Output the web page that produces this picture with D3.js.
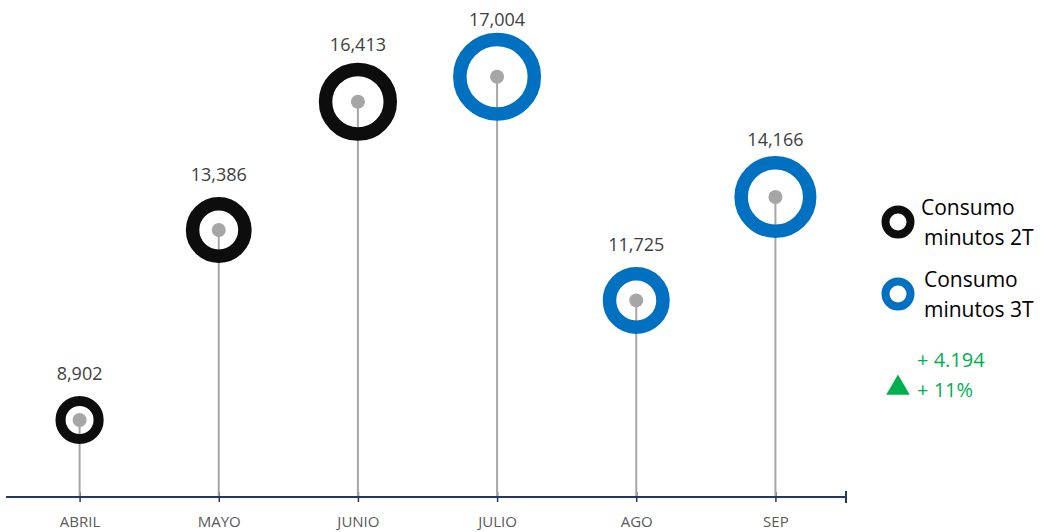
<!DOCTYPE html>
<html>
<head>
<meta charset="utf-8">
<script src="https://cdn.jsdelivr.net/npm/d3@7"></script>
<style>
  html, body { margin: 0; padding: 0; background: #fff; }
  svg { display: block; font-family: "Open Sans", Lato, "Liberation Sans", sans-serif; }
</style>
</head>
<body>
<div id="chart"></div>
<script>
// Monthly minute consumption, 2T (Apr-Jun) vs 3T (Jul-Sep)
const months = ['ABRIL', 'MAYO', 'JUNIO', 'JULIO', 'AGO', 'SEP'];
const minutes = [8902, 13386, 16413, 17004, 11725, 14166];
const quarter = ['2T', '2T', '2T', '3T', '3T', '3T'];
// relative bubble size as drawn in the original
const bubbleSize = [30, 56, 79, 100, 58, 87];

const seriesNames = ['Consumo minutos 2T', 'Consumo minutos 3T'];
const seriesKeys = ['2T', '3T'];
const deltaLines = ['+ 4.194', '+ 11%'];

const width = 1047, height = 532;
const colors = { '2T': '#0d0d0d', '3T': '#0070c0' };

const svg = d3.select('#chart').append('svg')
  .attr('width', width)
  .attr('height', height);

// Scales
const x = d3.scalePoint()
  .domain(months)
  .range([10, 845])
  .padding(0.5);

const y = d3.scaleLinear()
  .domain([7085, 18814])
  .range([497, 0]);

const r = d3.scaleSqrt()
  .domain([0, 100])
  .range([0, 44]);

const data = months.map((m, i) => ({
  month: m,
  value: minutes[i],
  q: quarter[i],
  size: bubbleSize[i]
}));

// Axis
const axis = svg.append('g')
  .attr('transform', 'translate(0,497)')
  .call(d3.axisBottom(x).tickSize(5).tickSizeOuter(0).tickPadding(14))
  .attr('font-family', null)
  .attr('font-size', null);

axis.select('.domain')
  .attr('d', 'M6,0H846')
  .attr('stroke', '#1f3864')
  .attr('stroke-width', 2);

axis.selectAll('.tick line')
  .attr('y1', -5)
  .attr('y2', 5)
  .attr('stroke', '#1f3864')
  .attr('stroke-width', 1.5);

axis.selectAll('.tick text')
  .attr('fill', '#595959')
  .style('font-size', '15px');

// end tick
axis.append('line')
  .attr('x1', 846).attr('x2', 846)
  .attr('y1', -6).attr('y2', 6)
  .attr('stroke', '#1f3864')
  .attr('stroke-width', 2);

// Stems
svg.append('g').selectAll('line')
  .data(data)
  .join('line')
  .attr('x1', d => x(d.month))
  .attr('x2', d => x(d.month))
  .attr('y1', d => y(d.value))
  .attr('y2', 496)
  .attr('stroke', '#a6a6a6')
  .attr('stroke-width', 2);

// Rings
svg.append('g').selectAll('circle')
  .data(data)
  .join('circle')
  .attr('cx', d => x(d.month))
  .attr('cy', d => y(d.value))
  .attr('r', d => {
    const R = r(d.size);
    const sw = Math.min(13.5, 0.42 * R);
    return R - sw / 2;
  })
  .attr('fill', 'none')
  .attr('stroke', d => colors[d.q])
  .attr('stroke-width', d => Math.min(13.5, 0.42 * r(d.size)));

// Center dots
svg.append('g').selectAll('circle')
  .data(data)
  .join('circle')
  .attr('cx', d => x(d.month))
  .attr('cy', d => y(d.value))
  .attr('r', 7)
  .attr('fill', '#a6a6a6');

// Value labels
svg.append('g').selectAll('text')
  .data(data)
  .join('text')
  .attr('x', d => x(d.month))
  .attr('y', d => y(d.value) - Math.min(51, r(d.size) + 16))
  .attr('text-anchor', 'middle')
  .attr('fill', '#404040')
  .style('font-size', '18px')
  .text(d => d3.format(',')(d.value));

// Legend
const legend = svg.append('g');
seriesKeys.forEach((k, i) => {
  const cy = 222 + i * 72;
  legend.append('circle')
    .attr('cx', 898)
    .attr('cy', cy)
    .attr('r', 12.5)
    .attr('fill', 'none')
    .attr('stroke', colors[k])
    .attr('stroke-width', 8);

  const words = seriesNames[i].split(' ');
  const t = legend.append('text')
    .attr('fill', '#000')
    .style('font-size', '21px');
  t.append('tspan').attr('x', 921 + i * 3).attr('y', cy - 7).text(words[0]);
  t.append('tspan').attr('x', 924).attr('y', cy + 23).text(words.slice(1).join(' '));
});

// Change vs previous quarter
legend.append('path')
  .attr('d', d3.symbol(d3.symbolTriangle, 240)())
  .attr('transform', 'translate(898,388)')
  .attr('fill', '#00b050');

legend.selectAll('.delta')
  .data(deltaLines)
  .join('text')
  .attr('class', 'delta')
  .attr('x', 917)
  .attr('y', (d, i) => 367 + i * 30)
  .attr('fill', '#00b050')
  .style('font-size', '20px')
  .text(d => d);
</script>
</body>
</html>
